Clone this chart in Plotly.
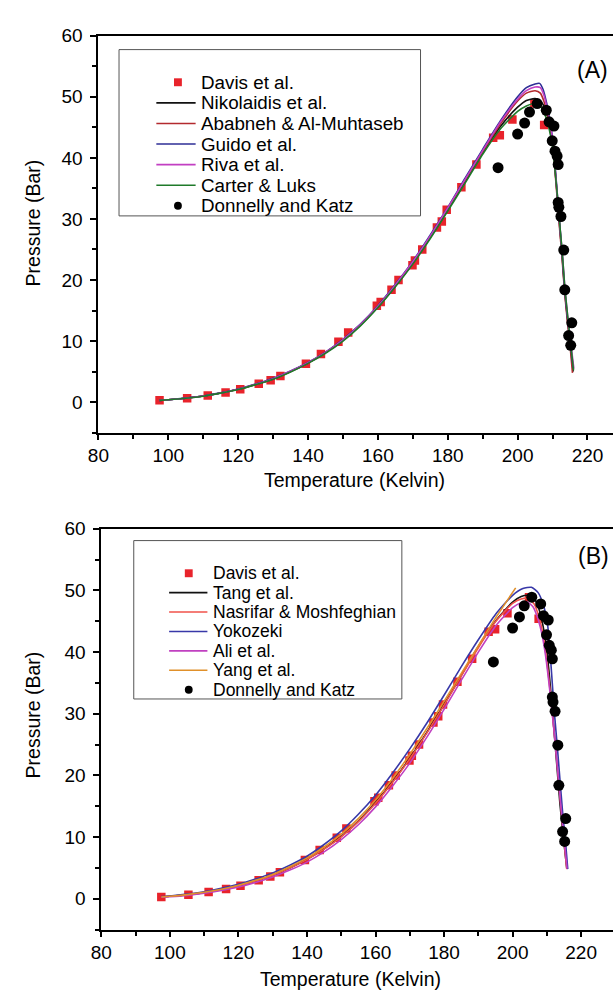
import plotly.graph_objects as go

W, H = 613, 991
FONT = "Liberation Sans, Arial, Helvetica, sans-serif"

# ---------------- data ----------------
davis_T = [97.5, 105.4, 111.3, 116.4, 120.6, 125.9, 129.3, 132.1, 139.4, 143.7, 148.7, 151.5,
           159.7, 160.8, 163.9, 165.9, 169.9, 170.6, 172.7, 176.9, 178.3, 179.7, 183.9, 188.2,
           193.0, 194.9, 198.5, 204.8, 207.6]
davis_P = [0.3, 0.65, 1.1, 1.6, 2.1, 3.0, 3.6, 4.3, 6.3, 7.9, 9.9, 11.4,
           15.8, 16.4, 18.4, 20.0, 22.4, 23.2, 25.0, 28.6, 29.6, 31.5, 35.2, 38.9,
           43.3, 43.7, 46.3, 48.9, 45.4]

donnelly_T = [194.4, 200.0, 202.0, 203.4, 205.6, 208.2, 209.0, 210.4, 209.9, 210.7, 211.3, 211.6,
              211.6, 211.8, 212.4, 213.2, 213.5, 215.5, 214.6, 215.2]
donnelly_P = [38.4, 43.9, 45.7, 47.5, 48.9, 47.8, 45.9, 45.2, 42.8, 41.1, 40.3, 38.9,
              32.7, 31.9, 30.4, 24.9, 18.4, 13.0, 10.9, 9.3]

# Panel A models
nik_T = [97.5, 100, 105, 110, 115, 120, 125, 130, 135, 140, 145, 150, 155, 160, 165, 170, 175, 180, 185, 190,
         195, 200, 202.5, 205, 207, 208.3, 209, 210, 210.7, 211.4, 212.1, 212.7, 213.4, 214.2, 215, 215.9]
nik_P = [0.3, 0.4, 0.65, 1.0, 1.5, 2.1, 2.9, 3.8, 5.0, 6.4, 8.1, 10.1, 12.6, 15.6, 19.0, 22.8, 27.0, 31.5, 36.2, 40.9,
         45.1, 48.3, 49.4, 49.7, 49.0, 47.4, 45.8, 42.5, 38.3, 33.3, 28.3, 24.3, 18.7, 14.0, 9.8, 5.0]

aba_T = [97.5, 100, 105, 110, 115, 120, 125, 130, 135, 140, 145, 150, 155, 160, 165, 170, 175, 180, 185, 190,
         195, 200, 202.5, 205, 206.5, 207.5, 208.3, 209, 210, 210.7, 211.4, 212.1, 212.7, 213.4, 214.2, 215, 215.7]
aba_P = [0.3, 0.4, 0.65, 1.0, 1.5, 2.1, 2.9, 3.8, 5.0, 6.4, 8.1, 10.2, 12.7, 15.7, 19.1, 22.9, 27.1, 31.7, 36.4, 41.0,
         45.5, 49.3, 50.6, 51.0, 50.6, 49.3, 47.5, 45.5, 42.0, 37.8, 32.8, 27.8, 23.8, 18.3, 13.5, 9.3, 4.8]

gui_T = [97.5, 100, 105, 110, 115, 120, 125, 130, 135, 140, 145, 150, 155, 160, 165, 170, 175, 180, 185, 190,
         195, 200, 202.5, 205, 206.3, 207.3, 208.3, 209, 210, 210.7, 211.4, 212.1, 212.7, 213.4, 214.2, 215, 215.9]
gui_P = [0.3, 0.4, 0.66, 1.02, 1.52, 2.15, 2.95, 3.9, 5.1, 6.5, 8.2, 10.3, 12.8, 15.8, 19.3, 23.1, 27.4, 31.9, 36.7, 41.4,
         46.0, 50.0, 51.5, 52.1, 52.2, 51.2, 49.0, 47.0, 43.2, 38.8, 33.8, 28.8, 24.6, 19.0, 14.2, 10.1, 5.6]

riv_T = [97.5, 100, 105, 110, 115, 120, 125, 130, 135, 140, 145, 150, 155, 160, 165, 170, 175, 180, 185, 190,
         195, 200, 202.5, 205, 206.5, 207.5, 208.3, 209, 210, 210.7, 211.4, 212.1, 212.8, 213.5, 214.3, 215.1, 216.1]
riv_P = [0.3, 0.4, 0.65, 1.01, 1.51, 2.12, 2.92, 3.85, 5.05, 6.45, 8.15, 10.2, 12.7, 15.7, 19.2, 23.0, 27.2, 31.8, 36.5, 41.2,
         45.8, 49.6, 51.0, 51.6, 51.5, 50.3, 48.5, 46.5, 42.9, 38.6, 33.6, 28.6, 24.4, 18.9, 14.2, 10.2, 5.5]

car_T = [97.5, 100, 105, 110, 115, 120, 125, 130, 135, 140, 145, 150, 155, 160, 165, 170, 175, 180, 185, 190,
         195, 200, 202.5, 205, 206.5, 207.5, 208.3, 209, 210, 210.7, 211.5, 212.2, 212.8, 213.5, 214.3, 215.1, 216.0]
car_P = [0.3, 0.4, 0.64, 0.98, 1.48, 2.07, 2.87, 3.75, 4.95, 6.35, 8.0, 10.0, 12.5, 15.5, 18.9, 22.6, 26.8, 31.3, 35.9, 40.6,
         44.7, 47.6, 48.5, 48.9, 48.5, 47.5, 46.3, 44.8, 41.8, 38.0, 33.0, 28.2, 24.3, 18.8, 14.2, 10.0, 5.2]

# Panel B models
tang_T = [97.5, 100, 105, 110, 115, 120, 125, 130, 135, 140, 145, 150, 155, 160, 165, 170, 175, 180, 185, 190,
          195, 200, 202.5, 204.5, 206.5, 207.8, 208.8, 209.8, 210.6, 211.4, 212.2, 213.0, 213.8, 214.8, 215.8]
tang_P = [0.3, 0.4, 0.65, 1.0, 1.5, 2.1, 2.9, 3.8, 5.0, 6.4, 8.1, 10.1, 12.6, 15.6, 19.0, 22.8, 27.0, 31.5, 36.2, 40.9,
          45.0, 48.1, 49.0, 49.2, 48.5, 46.8, 44.5, 41.0, 37.0, 32.0, 26.5, 21.0, 15.5, 10.0, 5.0]

nas_T = [97.5, 100, 105, 110, 115, 120, 125, 130, 135, 140, 145, 150, 155, 160, 165, 170, 175, 180, 185, 190,
         195, 200, 202.5, 204.5, 206.3, 207.8, 209, 210, 210.8, 211.6, 212.4, 213.2, 214, 214.9, 215.8]
nas_P = [0.3, 0.4, 0.64, 0.99, 1.48, 2.08, 2.88, 3.77, 4.97, 6.35, 8.05, 10.05, 12.5, 15.5, 18.9, 22.7, 26.9, 31.4, 36.1, 40.7,
         44.9, 47.9, 48.6, 48.7, 47.8, 45.5, 42.5, 38.5, 34.5, 30.0, 25.5, 20.5, 15.5, 10.0, 4.8]

yok_T = [97.5, 100, 105, 110, 115, 120, 125, 130, 135, 140, 145, 150, 155, 160, 165, 170, 175, 180, 185, 190,
         195, 200, 203, 205.5, 207.5, 209, 210.2, 211, 211.7, 212.3, 213, 213.8, 214.6, 215.4, 216.1]
yok_P = [0.35, 0.45, 0.75, 1.15, 1.7, 2.35, 3.2, 4.2, 5.45, 6.9, 8.8, 11.0, 13.7, 16.8, 20.4, 24.3, 28.5, 33.0, 37.6, 42.0,
         46.1, 49.2, 50.3, 50.5, 49.6, 47.6, 44.5, 39.5, 34.0, 29.5, 25.0, 19.5, 14.0, 9.5, 4.8]

ali_T = [97.5, 100, 105, 110, 115, 120, 125, 130, 135, 140, 145, 150, 155, 160, 165, 170, 175, 180, 185, 190,
         195, 200, 202.5, 204.3, 206, 207.5, 208.6, 209.6, 210.5, 211.4, 212.3, 213.2, 214.1, 215, 215.9]
ali_P = [0.25, 0.33, 0.55, 0.9, 1.35, 1.9, 2.65, 3.55, 4.65, 5.95, 7.6, 9.6, 12.0, 14.9, 18.3, 22.0, 26.2, 30.7, 35.4, 40.0,
         44.2, 47.2, 48.0, 48.1, 47.3, 45.2, 42.8, 39.5, 35.5, 31.0, 26.0, 20.5, 15.0, 9.8, 4.9]

yang_T = [97.5, 100, 105, 110, 115, 120, 125, 130, 135, 140, 145, 150, 155, 160, 165, 170, 175, 180, 185, 190,
          195, 200.9]
yang_P = [0.3, 0.4, 0.68, 1.05, 1.55, 2.2, 3.0, 3.95, 5.2, 6.6, 8.4, 10.5, 13.0, 16.0, 19.5, 23.4, 27.6, 32.0, 36.5, 41.0,
          45.5, 50.4]

davis_name = "Davis et al."
donnelly_name = "Donnelly and Katz"
models_A = [("Nikolaidis et al.", nik_T, nik_P, "#111111"),
            ("Ababneh & Al-Muhtaseb", aba_T, aba_P, "#b32a2e"),
            ("Guido et al.", gui_T, gui_P, "#2e2e96"),
            ("Riva et al.", riv_T, riv_P, "#c23fc2"),
            ("Carter & Luks", car_T, car_P, "#1f7a2a")]
models_B = [("Tang et al.", tang_T, tang_P, "#111111"),
            ("Nasrifar & Moshfeghian", nas_T, nas_P, "#f0524a"),
            ("Yokozeki", yok_T, yok_P, "#3838a8"),
            ("Ali et al.", ali_T, ali_P, "#c040c0"),
            ("Yang et al.", yang_T, yang_P, "#e0902a")]

x_ticks = [80, 100, 120, 140, 160, 180, 200, 220]
y_ticks = [0, 10, 20, 30, 40, 50, 60]

RED = "#e8232b"


def px(x):
    return x / W


def py(y):
    return 1 - y / H


fig = go.Figure()


def add_panel(models, xa, ya):
    fig.add_trace(go.Scatter(x=davis_T, y=davis_P, mode="markers", name=davis_name,
                             marker=dict(symbol="square", size=8.5, color=RED),
                             xaxis=xa, yaxis=ya, showlegend=False))
    for name, T, P, c in models:
        fig.add_trace(go.Scatter(x=T, y=P, mode="lines", name=name,
                                 line=dict(color=c, width=1.6, shape="spline", smoothing=0.6),
                                 xaxis=xa, yaxis=ya, showlegend=False))
    fig.add_trace(go.Scatter(x=donnelly_T, y=donnelly_P, mode="markers", name=donnelly_name,
                             marker=dict(symbol="circle", size=11, color="black"),
                             xaxis=xa, yaxis=ya, showlegend=False))


add_panel(models_A, "x", "y")
add_panel(models_B, "x2", "y2")

tickfont = dict(family=FONT, size=19, color="black")
xcommon = dict(showline=True, linecolor="black", linewidth=2, mirror=True,
               ticks="outside", ticklen=5, tickwidth=1.5, tickcolor="black",
               tickvals=x_ticks, showgrid=False, zeroline=False, tickfont=tickfont,
               minor=dict(ticks="outside", ticklen=4, tickwidth=1.5, tickcolor="black",
                          dtick=10, tick0=80, showgrid=False))
ycommon = dict(showline=True, linecolor="black", linewidth=2, mirror=False,
               ticks="outside", ticklen=6, tickwidth=1.5, tickcolor="black",
               tickvals=y_ticks, showgrid=False, zeroline=False, tickfont=tickfont,
               ticklabelstandoff=4,
               range=[-5, 60],
               minor=dict(ticks="outside", ticklen=4, tickwidth=1.5, tickcolor="black",
                          dtick=5, tick0=0, showgrid=False))

shapes = []
annotations = []


def text(x, y, s, size=17, anchor="left", angle=0):
    annotations.append(dict(x=px(x), y=py(y), xref="paper", yref="paper", text=s,
                            showarrow=False, xanchor=anchor, yanchor="middle", textangle=angle,
                            font=dict(family=FONT, size=size, color="black")))


def legend(box, y0, dy, lx0, lx1, mx, tx, fsize, models):
    x0, yt, x1, yb = box
    shapes.append(dict(type="rect", xref="paper", yref="paper", x0=px(x0), x1=px(x1),
                       y0=py(yb), y1=py(yt), line=dict(color="#555555", width=1)))
    y = y0
    shapes.append(dict(type="rect", xref="paper", yref="paper", x0=px(mx - 4), x1=px(mx + 4),
                       y0=py(y + 4), y1=py(y - 4), fillcolor=RED, line=dict(width=0)))
    text(tx, y, davis_name, size=fsize)
    for i, (name, T, P, c) in enumerate(models):
        y = y0 + dy * (i + 1)
        shapes.append(dict(type="line", xref="paper", yref="paper", x0=px(lx0), x1=px(lx1),
                           y0=py(y), y1=py(y), line=dict(color=c, width=1.6)))
        text(tx, y, name, size=fsize)
    y = y0 + dy * (len(models) + 1)
    shapes.append(dict(type="circle", xref="paper", yref="paper", x0=px(mx - 4), x1=px(mx + 4),
                       y0=py(y + 4), y1=py(y - 4), fillcolor="black", line=dict(width=0)))
    text(tx, y, donnelly_name, size=fsize)


legend((110, 40, 417, 208), 73, 20.8, 148, 188, 170, 191, 18.8, models_A)
legend((125, 536, 398, 696), 569, 19.6, 161, 200, 181, 204, 17.5, models_B)

# axis titles and panel labels
text(22, 215, "Pressure (Bar)", size=19.5, anchor="center", angle=-90)
text(22, 712, "Pressure (Bar)", size=19.5, anchor="center", angle=-90)
text(350, 475, "Temperature (Kelvin)", size=19.5, anchor="center")
text(346, 979, "Temperature (Kelvin)", size=19.5, anchor="center")
text(592, 61, "(A)", size=23, anchor="center")
text(593, 552, "(B)", size=23, anchor="center")

fig.update_layout(
    width=W, height=H,
    margin=dict(l=0, r=0, t=0, b=0),
    paper_bgcolor="white", plot_bgcolor="white",
    showlegend=False,
    xaxis=dict(xcommon, domain=[px(89), 1], range=[80, 227.3], anchor="y"),
    yaxis=dict(ycommon, domain=[py(427), py(26)], anchor="x"),
    xaxis2=dict(xcommon, domain=[px(92), 1], range=[80, 229.3], anchor="y2"),
    yaxis2=dict(ycommon, domain=[py(929), py(524)], anchor="x2"),
    shapes=shapes,
    annotations=annotations,
)

fig.write_html("out.html")
